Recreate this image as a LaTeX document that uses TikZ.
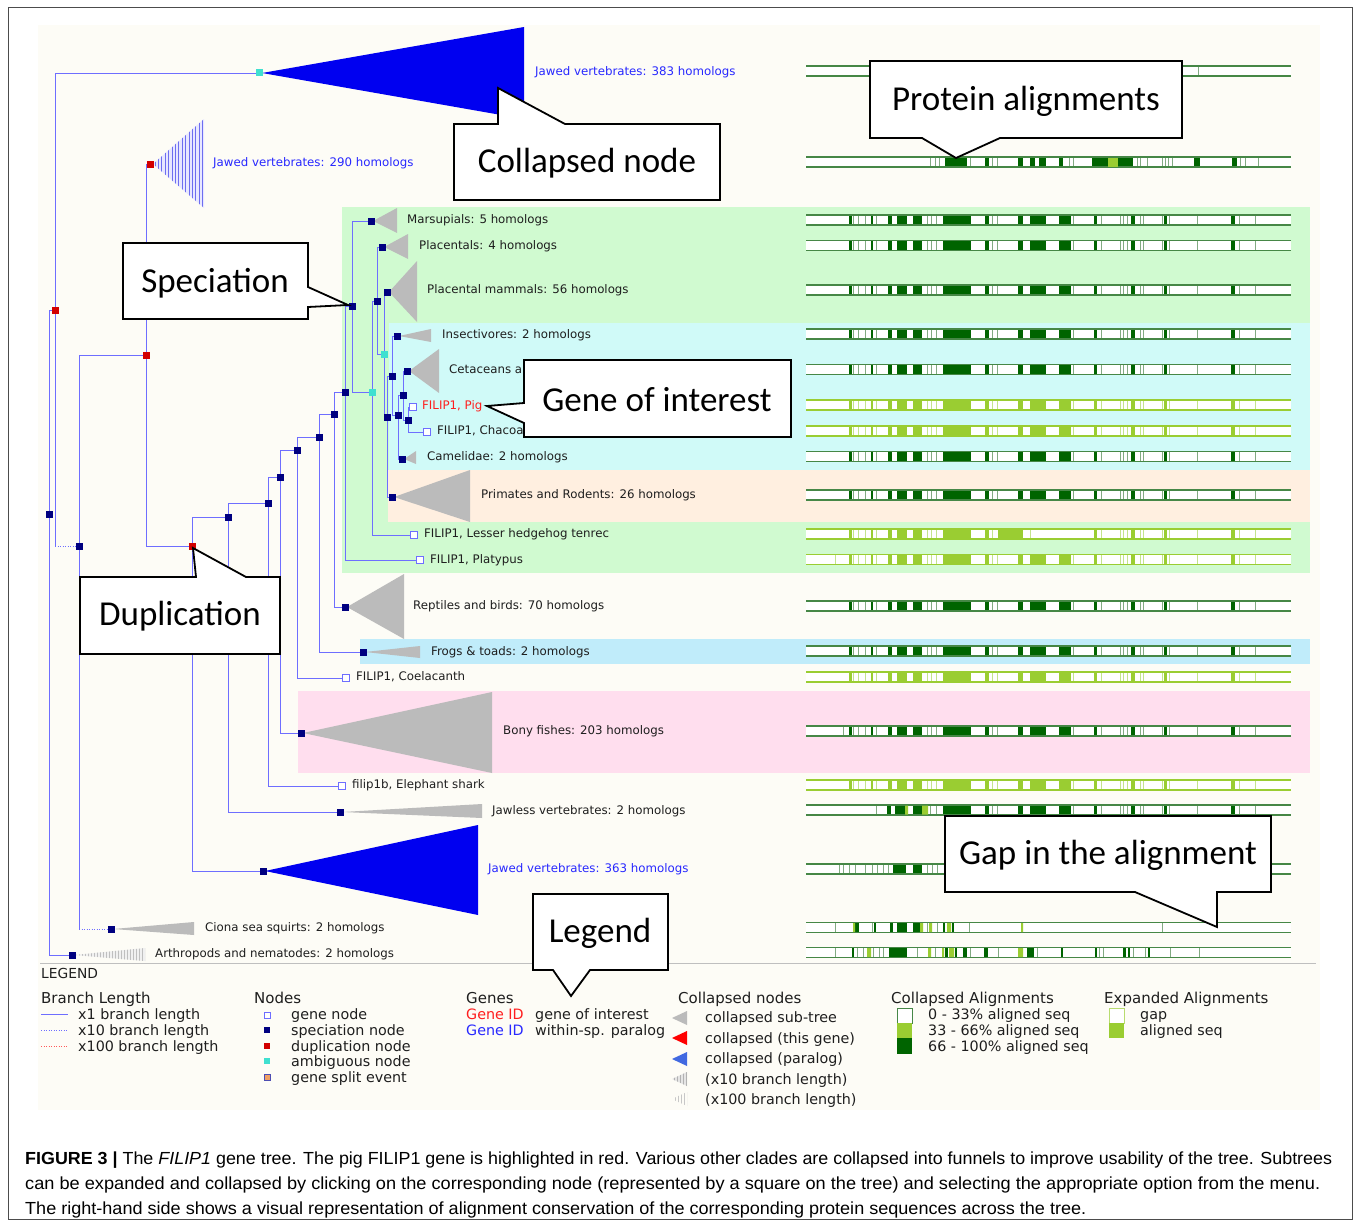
\documentclass[tikz,border=0pt]{standalone}
\usepackage{fontspec}
\setmainfont{DejaVu Sans}
\newfontfamily\callfont{Carlito}
\newfontfamily\capfont{Liberation Sans}
\usepackage{graphicx}
\definecolor{cream}{RGB}{253,252,246}
\definecolor{pgreen}{RGB}{208,250,208}
\definecolor{pcyan}{RGB}{208,250,248}
\definecolor{ppeach}{RGB}{255,239,224}
\definecolor{pblue}{RGB}{192,236,250}
\definecolor{ppink}{RGB}{255,222,238}
\definecolor{brblue}{RGB}{110,110,255}
\definecolor{navy}{RGB}{0,0,128}
\definecolor{dupred}{RGB}{210,0,0}
\definecolor{ambcyan}{RGB}{64,224,208}
\definecolor{trigray}{RGB}{187,187,187}
\definecolor{fullblue}{RGB}{0,0,240}
\definecolor{lblblue}{RGB}{40,40,255}
\definecolor{lblred}{RGB}{255,30,30}
\definecolor{dkgreen}{RGB}{0,100,0}
\definecolor{frgreen}{RGB}{70,135,70}
\definecolor{thgreen}{RGB}{130,170,130}
\definecolor{ygreen}{RGB}{154,205,50}
\definecolor{ythin}{RGB}{195,228,140}
\definecolor{splitor}{RGB}{240,160,100}
\definecolor{paralogblue}{RGB}{65,105,225}
\definecolor{stripeblue}{RGB}{110,110,240}
\definecolor{stripefill}{RGB}{232,232,255}
\definecolor{txt}{RGB}{30,30,30}

\def\stdheavy{849/851.5, 871/873, 888/892, 897/907, 913/922, 943/971, 985/989, 1018/1023, 1030/1046, 1059/1071, 1094/1097, 1131/1135, 1164/1167, 1231/1235}
\def\stdthin{853, 858, 865, 876, 927, 931, 936, 992, 997, 1073, 1101, 1120, 1123, 1127, 1140, 1143, 1162, 1169, 1197, 1239, 1255}
\def\tenheavy{849/851.5, 871/873, 888/892, 897/907, 913/922, 943/971, 985/989, 998/1023, 1094/1097, 1131/1135, 1164/1167, 1231/1235}
\def\tenthin{853, 858, 865, 876, 927, 931, 936, 992, 1030, 1101, 1120, 1123, 1127, 1140, 1143, 1162, 1169, 1197, 1239, 1255}
\def\platthin{835, 853, 858, 865, 876, 927, 931, 936, 992, 997, 1073, 1101, 1120, 1123, 1127, 1140, 1143, 1162, 1169, 1197, 1239, 1255}
\def\bonythin{843, 853, 858, 865, 876, 927, 931, 936, 992, 997, 1073, 1101, 1120, 1123, 1127, 1140, 1143, 1162, 1169, 1197, 1239, 1255}
\def\jlheavy{887/891, 895/905, 913/922, 943/971, 985/989, 1018/1023, 1030/1046, 1059/1071, 1094/1097, 1131/1135, 1164/1167, 1231/1235}
\def\jlthin{876, 930, 936, 992, 997, 1073, 1101, 1120, 1123, 1127, 1140, 1143, 1162, 1169, 1197, 1239, 1255}
\def\jbheavy{893/906, 913/922}
\def\jbthin{839, 843, 849, 855, 865, 872, 877, 883, 888, 927, 932, 937}
\def\jaheavy{945/967, 985/989, 1018/1023, 1030/1035, 1039/1046, 1059/1063, 1092/1108, 1118/1133, 1194/1200, 1232/1237}
\def\jathin{930, 935, 939, 970, 992, 997, 1069, 1073, 1137, 1140, 1147, 1162, 1165, 1168, 1172, 1240, 1245, 1258}
\def\jzheavy{1197.6/1198.6}
\def\jzthin{1198}
\def\ciheavy{855/859, 874/876, 890/893, 897/907, 913/920, 943/945, 952/954}
\def\cithin{835, 872, 927, 937, 969, 1162}
\def\arheavy{852/853.5, 889/907, 945/948, 955/957, 963/967, 984/988, 1027/1034, 1061/1063, 1095/1097, 1123/1126, 1128/1130, 1148/1150}
\def\arthin{835, 857, 863, 873, 879, 883, 917, 935, 970, 998, 1037, 1099, 1103, 1133, 1145, 1170, 1199}

\newcommand\alnbar[6]{%
  \fill[white] (806,#1-5) rectangle (1291,#1+5);
  \foreach \a/\b in #4 {\fill[#3] (\a,#1-5) rectangle (\b,#1+5);}
  \foreach \a in #5 {\draw[#6,line width=0.7pt] (\a,#1-5) -- (\a,#1+5);}
  \draw[#2,line width=1.1pt] (806,#1-5) -- (1291,#1-5) (806,#1+5) -- (1291,#1+5);
}

\begin{document}
\begin{tikzpicture}[x=1pt,y=-1pt,
  br/.style={draw=brblue, line width=0.9pt},
  brdot/.style={draw=brblue, line width=0.9pt, dash pattern=on 1pt off 1.5pt},
  nd/.style={minimum size=7pt, inner sep=0pt, outer sep=0pt},
  spec/.style={nd, fill=navy},
  dup/.style={nd, fill=dupred},
  amb/.style={nd, fill=ambcyan},
  gene/.style={nd, minimum size=6.5pt, fill=white, draw=brblue, line width=0.8pt},
  tri/.style={fill=trigray},
  lbl/.style={anchor=base west, inner sep=0pt, text=txt, font=\fontsize{11.8}{14}\selectfont},
  leg/.style={anchor=base west, inner sep=0pt, text=txt, font=\fontsize{14.3}{17}\selectfont},
  leghead/.style={anchor=base west, inner sep=0pt, text=txt, font=\fontsize{15}{18}\selectfont},
  callout/.style={draw=black, line width=1.8pt, fill=white, line join=miter},
  ctext/.style={inner sep=0pt, text=black, font=\callfont\fontsize{35}{40}\selectfont},
  lsq/.style={minimum size=6pt, inner sep=0pt, outer sep=0pt}
]
\useasboundingbox (0,0) rectangle (1360,1223);
\fill[white] (0,0) rectangle (1360,1223);
\draw[black!70, line width=1pt] (8,8) rectangle (1352,1219);
\fill[cream] (38,25) rectangle (1320,1110);

% ---------- coloured panels
\fill[pgreen] (342,207) rectangle (1310,573);
\fill[pcyan] (389,323) rectangle (1310,470);
\fill[ppeach] (388,470) rectangle (1310,522);
\fill[pblue] (360,639) rectangle (1310,664);
\fill[ppink] (298,691) rectangle (1310,773);

% ---------- alignment bars
\alnbar{71}{frgreen}{dkgreen}{\jzheavy}{\jzthin}{thgreen}
\alnbar{162}{frgreen}{dkgreen}{\jaheavy}{\jathin}{thgreen}
\fill[ygreen] (1108,157.5) rectangle (1118,166.5);
\alnbar{220}{frgreen}{dkgreen}{\stdheavy}{\stdthin}{thgreen}
\alnbar{245.5}{frgreen}{dkgreen}{\stdheavy}{\stdthin}{thgreen}
\alnbar{290}{frgreen}{dkgreen}{\stdheavy}{\stdthin}{thgreen}
\alnbar{334}{frgreen}{dkgreen}{\stdheavy}{\stdthin}{thgreen}
\alnbar{369.5}{frgreen}{dkgreen}{\stdheavy}{\stdthin}{thgreen}
\alnbar{405}{ygreen}{ygreen}{\stdheavy}{\stdthin}{ythin}
\alnbar{431}{ygreen}{ygreen}{\stdheavy}{\stdthin}{ythin}
\alnbar{456.5}{frgreen}{dkgreen}{\stdheavy}{\stdthin}{thgreen}
\alnbar{495}{frgreen}{dkgreen}{\stdheavy}{\stdthin}{thgreen}
\alnbar{534}{ygreen}{ygreen}{\tenheavy}{\tenthin}{ythin}
\alnbar{559.5}{ygreen}{ygreen}{\stdheavy}{\platthin}{ythin}
\alnbar{606}{frgreen}{dkgreen}{\stdheavy}{\stdthin}{thgreen}
\alnbar{651}{frgreen}{dkgreen}{\stdheavy}{\stdthin}{thgreen}
\alnbar{677}{ygreen}{ygreen}{\stdheavy}{\stdthin}{ythin}
\alnbar{731}{frgreen}{dkgreen}{\stdheavy}{\bonythin}{thgreen}
\alnbar{785}{ygreen}{ygreen}{\stdheavy}{\stdthin}{ythin}
\alnbar{810}{frgreen}{dkgreen}{\jlheavy}{\jlthin}{thgreen}
\fill[ygreen] (905,805.5) rectangle (908,814.5) (922,805.5) rectangle (928,814.5);
\alnbar{869}{frgreen}{dkgreen}{\jbheavy}{\jbthin}{thgreen}
\alnbar{927.5}{frgreen}{dkgreen}{\ciheavy}{\cithin}{thgreen}
\fill[ygreen] (853,923) rectangle (855,932) (920,923) rectangle (923,932) (929,923) rectangle (932,932) (947,923) rectangle (951,932) (1021,923) rectangle (1023,932);
\alnbar{952.5}{frgreen}{dkgreen}{\arheavy}{\arthin}{thgreen}
\fill[ygreen] (867,948) rectangle (871,957) (928,948) rectangle (931,957) (942,948) rectangle (944,957) (949,948) rectangle (954,957) (1018,948) rectangle (1023,957);

% ---------- tree positions
\coordinate (r0) at (49,514);
\coordinate (d1) at (55,310);
\coordinate (a1) at (259,73);
\coordinate (s2) at (79,546);
\coordinate (d2) at (146,355);
\coordinate (d3) at (150,164);
\coordinate (d4) at (192,546);
\coordinate (s5) at (228,517);
\coordinate (s6) at (268,503);
\coordinate (s7) at (280,477);
\coordinate (s8) at (297,450);
\coordinate (s9) at (319,437);
\coordinate (s10) at (334,414);
\coordinate (s11) at (345,392);
\coordinate (s12) at (352,306);
\coordinate (a2) at (372,392);
\coordinate (s13) at (377,301);
\coordinate (a3) at (384,354);
\coordinate (s14) at (387,417);
\coordinate (s15) at (392,376);
\coordinate (s16) at (398,415);
\coordinate (s17) at (403,395);
\coordinate (s18) at (408,420);
\coordinate (cArth) at (72,955);
\coordinate (cCiona) at (111,929);
\coordinate (cJ363) at (263,871);
\coordinate (cJawless) at (340,812);
\coordinate (gShark) at (342,786);
\coordinate (cBony) at (301,733);
\coordinate (gCoel) at (346,678);
\coordinate (cFrogs) at (363,652);
\coordinate (cRept) at (345,607);
\coordinate (gPlaty) at (420,560);
\coordinate (cMars) at (371,221);
\coordinate (gTenrec) at (414,535);
\coordinate (cPlac) at (382,247);
\coordinate (cPlMam) at (387,292);
\coordinate (cPrim) at (392,497);
\coordinate (cInsect) at (397,336);
\coordinate (cCamel) at (402,459);
\coordinate (cCetac) at (407,371);
\coordinate (gPig) at (413,407);
\coordinate (gChac) at (427,432);

% ---------- branches
\draw[br] (r0) |- (d1);
\draw[br] (r0) |- (cArth);
\draw[br] (d1) |- (a1);
\draw[br] (d1) -- (d1 |- s2);
\draw[brdot] (d1 |- s2) -- (s2);
\draw[br] (s2) |- (d2);
\draw[br] (s2) -- (s2 |- cCiona);
\draw[brdot] (s2 |- cCiona) -- (cCiona);
\draw[br] (d2) |- (d3);
\draw[br] (d2) |- (d4);
\draw[br] (d4) |- (s5);
\draw[br] (d4) |- (cJ363);
\draw[br] (s5) |- (s6);
\draw[br] (s5) |- (cJawless);
\draw[br] (s6) |- (s7);
\draw[br] (s6) |- (gShark);
\draw[br] (s7) |- (s8);
\draw[br] (s7) |- (cBony);
\draw[br] (s8) |- (s9);
\draw[br] (s8) |- (gCoel);
\draw[br] (s9) |- (s10);
\draw[br] (s9) |- (cFrogs);
\draw[br] (s10) |- (s11);
\draw[br] (s10) |- (cRept);
\draw[br] (s11) |- (s12);
\draw[br] (s11) |- (gPlaty);
\draw[br] (s12) |- (cMars);
\draw[br] (s12) |- (a2);
\draw[br] (a2) |- (s13);
\draw[br] (a2) |- (gTenrec);
\draw[br] (s13) |- (cPlac);
\draw[br] (s13) |- (a3);
\draw[br] (a3) |- (cPlMam);
\draw[br] (a3) |- (s14);
\draw[br] (s14) |- (s15);
\draw[br] (s14) |- (cPrim);
\draw[br] (s15) |- (cInsect);
\draw[br] (s15) |- (s16);
\draw[br] (s16) |- (s17);
\draw[br] (s16) |- (cCamel);
\draw[br] (s17) |- (cCetac);
\draw[br] (s17) |- (s18);
\draw[br] (s18) |- (gPig);
\draw[br] (s18) |- (gChac);

% ---------- collapsed funnels
\fill[fullblue] (262,73) -- (524,27) -- (524,119) -- cycle;
\begin{scope}
  \clip (153,164) -- (204,119) -- (204,208) -- cycle;
  \fill[stripefill] (150,115) rectangle (206,212);
  \foreach \x in {155,158.4,...,204} \draw[stripeblue, line width=0.9pt] (\x,115) -- (\x,212);
\end{scope}
\fill[tri] (373,221) -- (397,208) -- (397,233) -- cycle;
\fill[tri] (384,247) -- (408,234) -- (408,259) -- cycle;
\fill[tri] (389,292) -- (417,261) -- (417,322) -- cycle;
\fill[tri] (399,336) -- (431,329) -- (431,342) -- cycle;
\fill[tri] (409,371) -- (439,349) -- (439,393) -- cycle;
\fill[tri] (404,459) -- (416,451) -- (416,464) -- cycle;
\fill[tri] (394,497) -- (470,470) -- (470,522) -- cycle;
\fill[tri] (347,607) -- (404,574) -- (404,639) -- cycle;
\fill[tri] (365,652) -- (420,646) -- (420,658) -- cycle;
\fill[tri] (303,733) -- (492,692) -- (492,773) -- cycle;
\fill[tri] (342,812) -- (482,804) -- (482,818) -- cycle;
\fill[fullblue] (265,871) -- (478,825) -- (478,915) -- cycle;
\fill[tri] (113,929) -- (194,922) -- (194,935) -- cycle;
\begin{scope}
  \clip (74,955) -- (145,948) -- (145,961) -- cycle;
  \fill[black!6] (70,945) rectangle (147,964);
  \foreach \x in {76,79,...,145} \draw[black!25, line width=0.8pt] (\x,945) -- (\x,964);
\end{scope}

% ---------- node squares
\foreach \p in {r0,s2,s5,s6,s7,s8,s9,s10,s11,s12,s13,s14,s15,s16,s17,s18,cArth,cCiona,cJ363,cJawless,cBony,cFrogs,cRept,cMars,cPlac,cPlMam,cPrim,cInsect,cCamel,cCetac}
  \node[spec] (n-\p) at (\p) {};
\foreach \p in {d1,d2,d3,d4} \node[dup] (n-\p) at (\p) {};
\foreach \p in {a1,a2,a3} \node[amb] (n-\p) at (\p) {};
\foreach \p in {gShark,gCoel,gPlaty,gTenrec,gPig,gChac} \node[gene] (n-\p) at (\p) {};

% ---------- tree labels
\node[lbl, text=lblblue] (t-j383) at (535,75) {Jawed vertebrates: 383 homologs};
\node[lbl, text=lblblue] (t-j290) at (213,166) {Jawed vertebrates: 290 homologs};
\node[lbl] (t-mars) at (407,223) {Marsupials: 5 homologs};
\node[lbl] (t-plac) at (419,249) {Placentals: 4 homologs};
\node[lbl] (t-plmam) at (427,293) {Placental mammals: 56 homologs};
\node[lbl] (t-insect) at (442,338) {Insectivores: 2 homologs};
\node[lbl] (t-cetac) at (449,373) {Cetaceans a};
\node[lbl, text=lblred] (t-pig) at (422,409) {FILIP1, Pig};
\node[lbl] (t-chac) at (437,434) {FILIP1, Chacoa};
\node[lbl] (t-camel) at (427,460) {Camelidae: 2 homologs};
\node[lbl] (t-prim) at (481,498) {Primates and Rodents: 26 homologs};
\node[lbl] (t-tenrec) at (424,537) {FILIP1, Lesser hedgehog tenrec};
\node[lbl] (t-platy) at (430,563) {FILIP1, Platypus};
\node[lbl] (t-rept) at (413,609) {Reptiles and birds: 70 homologs};
\node[lbl] (t-frogs) at (431,655) {Frogs \& toads: 2 homologs};
\node[lbl] (t-coel) at (356,680) {FILIP1, Coelacanth};
\node[lbl] (t-bony) at (503,734) {Bony fishes: 203 homologs};
\node[lbl] (t-shark) at (352,788) {filip1b, Elephant shark};
\node[lbl] (t-jawless) at (492,814) {Jawless vertebrates: 2 homologs};
\node[lbl, text=lblblue] (t-j363) at (488,872) {Jawed vertebrates: 363 homologs};
\node[lbl] (t-ciona) at (205,931) {Ciona sea squirts: 2 homologs};
\node[lbl] (t-arth) at (155,957) {Arthropods and nematodes: 2 homologs};

% ---------- callouts
\draw[callout] (454,124) -- (498,124) -- (498,88) -- (565,124) -- (720,124) -- (720,200) -- (454,200) -- cycle;
\node[ctext] (c-coll) at (587,163) {Collapsed node};
\draw[callout] (870,61) -- (1182,61) -- (1182,138) -- (1000,138) -- (956,158) -- (922,138) -- (870,138) -- cycle;
\node[ctext] (c-prot) at (1026,101) {Protein alignments};
\draw[callout] (123,243) -- (308,243) -- (308,287) -- (348,305) -- (308,307) -- (308,319) -- (123,319) -- cycle;
\node[ctext] (c-spec) at (215,283) {Speciation};
\draw[callout] (524,360) -- (791,360) -- (791,437) -- (524,437) -- (524,423) -- (487,406) -- (524,403) -- cycle;
\node[ctext] (c-goi) at (657,400) {Gene of interest};
\draw[callout] (80,577) -- (196,577) -- (193,548) -- (246,577) -- (280,577) -- (280,654) -- (80,654) -- cycle;
\node[ctext] (c-dup) at (180,616) {Duplication};
\draw[callout] (945,816) -- (1271,816) -- (1271,892) -- (1217,892) -- (1217,927) -- (1135,892) -- (945,892) -- cycle;
\node[ctext] (c-gap) at (1108,855) {Gap in the alignment};

% ---------- legend
\draw[black!25, line width=1pt] (40,963) -- (1316,963);
\draw[callout] (533,894) -- (668,894) -- (668,970) -- (590,970) -- (571,996) -- (553,970) -- (533,970) -- cycle;
\node[ctext] (c-leg) at (600,933) {Legend};

\node[leg, font=\fontsize{13.8}{16}\selectfont] (lg-title) at (41,978) {LEGEND};

\node[leghead] (lg-bl) at (41,1003.5) {Branch Length};
\coordinate (bl1a) at (41,1014); \coordinate (bl1b) at (68,1014);
\coordinate (bl2a) at (41,1030); \coordinate (bl2b) at (68,1030);
\coordinate (bl3a) at (41,1046); \coordinate (bl3b) at (68,1046);
\draw[br] (bl1a) -- (bl1b);
\draw[brdot] (bl2a) -- (bl2b);
\draw[draw={rgb,255:red,255;green,90;blue,90}, line width=0.9pt, dash pattern=on 1pt off 1.5pt] (bl3a) -- (bl3b);
\node[leg] (lg-bl1) at (78,1019.2) {x1 branch length};
\node[leg] (lg-bl2) at (78,1035.2) {x10 branch length};
\node[leg] (lg-bl3) at (78,1051.2) {x100 branch length};

\node[leghead] (lg-nd) at (254,1003.5) {Nodes};
\node[lsq, fill=white, draw=brblue, line width=0.8pt] (lq1) at (267,1015) {};
\node[lsq, fill=navy] (lq2) at (267,1030) {};
\node[lsq, fill=dupred] (lq3) at (267,1046) {};
\node[lsq, fill=ambcyan] (lq4) at (267,1061) {};
\node[lsq, fill=splitor, draw=brblue!70!black, line width=0.6pt] (lq5) at (267,1077) {};
\node[leg] (lg-n1) at (291,1019.2) {gene node};
\node[leg] (lg-n2) at (291,1035.2) {speciation node};
\node[leg] (lg-n3) at (291,1051.2) {duplication node};
\node[leg] (lg-n4) at (291,1066.2) {ambiguous node};
\node[leg] (lg-n5) at (291,1082.2) {gene split event};

\node[leghead] (lg-gn) at (466,1003.5) {Genes};
\node[leg, text=lblred] (lg-g1) at (466,1019.2) {Gene ID};
\node[leg, text=lblblue] (lg-g2) at (466,1035.2) {Gene ID};
\node[leg] (lg-g3) at (535,1019.2) {gene of interest};
\node[leg] (lg-g4) at (535,1035.2) {within-sp. paralog};

\node[leghead] (lg-cn) at (678,1003.5) {Collapsed nodes};
\fill[trigray] (672,1018) -- (687,1011) -- (687,1025) -- cycle;
\fill[red] (672,1038) -- (687,1031) -- (687,1045) -- cycle;
\fill[paralogblue] (672,1059) -- (687,1052) -- (687,1066) -- cycle;
\begin{scope}
  \clip (672,1079) -- (687,1072) -- (687,1086) -- cycle;
  \fill[black!10] (670,1070) rectangle (689,1088);
  \foreach \x in {674,677,...,687} \draw[black!30, line width=0.7pt] (\x,1070) -- (\x,1088);
\end{scope}
\begin{scope}
  \clip (672,1099) -- (687,1092) -- (687,1106) -- cycle;
  \foreach \x in {675,678,...,687} \draw[black!22, line width=0.6pt] (\x,1090) -- (\x,1108);
\end{scope}
\node[leg] (lg-c1) at (705,1022.2) {collapsed sub-tree};
\node[leg] (lg-c2) at (705,1043.2) {collapsed (this gene)};
\node[leg] (lg-c3) at (705,1063.2) {collapsed (paralog)};
\node[leg] (lg-c4) at (705,1084.2) {(x10 branch length)};
\node[leg] (lg-c5) at (705,1104.2) {(x100 branch length)};

\node[leghead] (lg-ca) at (891,1003.5) {Collapsed Alignments};
\draw[frgreen, fill=white, line width=0.8pt] (897,1008) rectangle (912,1023);
\fill[ygreen] (897,1023) rectangle (912,1038);
\fill[dkgreen] (897,1038) rectangle (912,1054);
\node[leg] (lg-a1) at (928,1019.2) {0 - 33\% aligned seq};
\node[leg] (lg-a2) at (928,1035.2) {33 - 66\% aligned seq};
\node[leg] (lg-a3) at (928,1051.2) {66 - 100\% aligned seq};

\node[leghead] (lg-ea) at (1104,1003.5) {Expanded Alignments};
\draw[ygreen!70, fill=white, line width=0.8pt] (1109,1008) rectangle (1124,1023);
\fill[ygreen] (1109,1023) rectangle (1124,1038);
\node[leg] (lg-e1) at (1140,1019.2) {gap};
\node[leg] (lg-e2) at (1140,1035.2) {aligned seq};

% ---------- caption
\node[anchor=base west, inner sep=0pt] (cap1) at (25,1164) {\resizebox{1307pt}{\height}{\capfont\fontsize{17.5}{20}\selectfont\textbf{FIGURE 3 |} The \textit{FILIP1} gene tree. The pig FILIP1 gene is highlighted in red. Various other clades are collapsed into funnels to improve usability of the tree. Subtrees}};
\node[anchor=base west, inner sep=0pt] (cap2) at (25,1189) {\resizebox{1295pt}{\height}{\capfont\fontsize{17.5}{20}\selectfont can be expanded and collapsed by clicking on the corresponding node (represented by a square on the tree) and selecting the appropriate option from the menu.}};
\node[anchor=base west, inner sep=0pt] (cap3) at (25,1214) {\resizebox{1061pt}{\height}{\capfont\fontsize{17.5}{20}\selectfont The right-hand side shows a visual representation of alignment conservation of the corresponding protein sequences across the tree.}};
\end{tikzpicture}
\end{document}
